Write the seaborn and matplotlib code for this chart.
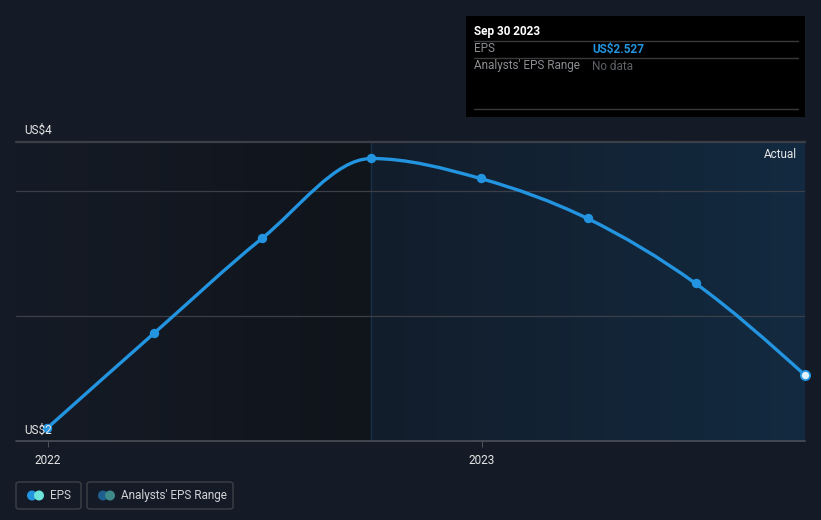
import numpy as np
import pandas as pd
import matplotlib
matplotlib.use("Agg")
import matplotlib.pyplot as plt
import matplotlib.dates as mdates
import seaborn as sns
from matplotlib.path import Path
from matplotlib.patches import PathPatch, FancyBboxPatch, Rectangle, Ellipse
from matplotlib.colors import LinearSegmentedColormap

# ---- data ----
dates = ["2021-12-31", "2022-03-31", "2022-06-30", "2022-09-30",
         "2022-12-31", "2023-03-31", "2023-06-30", "2023-09-30"]
eps = [2.10, 2.86, 3.62, 4.26, 4.10, 3.78, 3.26, 2.527]
y_label_values = [2, 4]
y_label_texts = ["US$2", "US$4"]
grid_values = [3, 4]
x_tick_dates = ["2022-01-01", "2023-01-01"]
x_tick_labels = ["2022", "2023"]
actual_start = "2022-09-30"
tooltip_date = "Sep 30 2023"
tooltip_eps = "US$2.527"

# ---- style ----
BG = "#151b26"
LINE = "#2394df"
sns.set_theme(style="dark")
plt.rcParams["font.family"] = ["Roboto", "DejaVu Sans"]

W, H = 821, 520
fig = plt.figure(figsize=(W / 100, H / 100), dpi=100, facecolor=BG)
ax = fig.add_axes([16 / W, (H - 441) / H, 789 / W, 299 / H])
ax.set_facecolor(BG)

df = pd.DataFrame({"date": pd.to_datetime(dates), "eps": eps})
df["x"] = mdates.date2num(df["date"])

px_per_day = 434 / 365.0
x0 = mdates.date2num(pd.Timestamp("2022-01-01")) - 32 / px_per_day
x1 = mdates.date2num(pd.Timestamp("2023-09-30"))
ylo = 2.0
yhi = 2.0 + 299 / 125.0
ax.set_xlim(x0, x1)
ax.set_ylim(ylo, yhi)

xa = mdates.date2num(pd.Timestamp(actual_start))
# gradient regions
grad_l = LinearSegmentedColormap.from_list("l", [BG, "#10141b"])
grad_r = LinearSegmentedColormap.from_list("r", ["#121d2b", "#132a40"])
g = np.linspace(0, 1, 256).reshape(1, -1)
ax.imshow(g, cmap=grad_l, extent=[x0, xa, ylo, yhi], aspect="auto", zorder=0)
ax.imshow(g, cmap=grad_r, extent=[xa, x1, ylo, yhi], aspect="auto", zorder=0)
ax.axvline(xa, color="#183049", lw=1, zorder=1)

# gridlines
for gv in grid_values:
    ax.axhline(gv, color="#3a3f48", lw=0.9, zorder=1)
ax.axhline(yhi, color="#3a3f48", lw=1.6, zorder=1, clip_on=False)

# smooth monotone curve (d3 curveMonotoneX style)
xs = df["x"].values
ys = df["eps"].values
n = len(xs)
h = np.diff(xs)
d = np.diff(ys) / h
m = np.zeros(n)
for i in range(1, n - 1):
    if d[i - 1] * d[i] <= 0:
        m[i] = 0
    else:
        m[i] = (np.sign(d[i - 1]) + np.sign(d[i])) * min(abs(d[i - 1]), abs(d[i]),
               0.5 * abs((d[i - 1] * h[i] + d[i] * h[i - 1]) / (h[i - 1] + h[i])))
m[0] = (3 * d[0] - m[1]) / 2
m[-1] = (3 * d[-1] - m[-2]) / 2
verts = [(xs[0], ys[0])]
codes = [Path.MOVETO]
for i in range(n - 1):
    dx = h[i] / 3
    verts += [(xs[i] + dx, ys[i] + m[i] * dx),
              (xs[i + 1] - dx, ys[i + 1] - m[i + 1] * dx),
              (xs[i + 1], ys[i + 1])]
    codes += [Path.CURVE4] * 3
ax.add_patch(PathPatch(Path(verts, codes), fill=False, edgecolor=LINE, lw=2.4,
                       zorder=3, capstyle="round", clip_on=False))

sns.scatterplot(data=df.iloc[:-1], x="x", y="eps", color=LINE, s=46,
                edgecolor=LINE, linewidth=0, zorder=4, ax=ax, legend=False,
                clip_on=False)
sns.scatterplot(data=df.iloc[-1:], x="x", y="eps", color="#dff1ff", s=44,
                edgecolor=LINE, linewidth=1.3, zorder=5, ax=ax, legend=False,
                clip_on=False)

# axes cosmetics
for s in ax.spines.values():
    s.set_visible(False)
ax.axhline(ylo, color="#4a4f58", lw=1.2, zorder=2, clip_on=False)
ax.set_xticks(mdates.date2num(pd.to_datetime(x_tick_dates)))
ax.set_xticklabels(x_tick_labels, color="#e6e6e6", fontsize=8.5)
ax.tick_params(axis="x", length=4, width=0.8, color="#4a4f58", pad=5, bottom=True)
ax.set_yticks([])
ax.set_xlabel("")
ax.set_ylabel("")
ax.grid(False)

def fx(px):
    return px / W

def fy(py):
    return 1 - py / H

# y labels
fig.text(fx(24), fy(130), y_label_texts[1], color="#e6e6e6", fontsize=8.5, va="center")
fig.text(fx(24), fy(430), y_label_texts[0], color="#e6e6e6", fontsize=8.5, va="center")

# Actual label
fig.text(fx(797), fy(154), "Actual", color="#e6e6e6", fontsize=8.5, ha="right", va="center")

# tooltip
fig.patches.append(Rectangle((fx(466), fy(117)), 339 / W, 101 / H, transform=fig.transFigure,
                             facecolor="#000000", edgecolor="none", zorder=5))
for yy in [41, 58, 109]:
    fig.lines.append(plt.Line2D([fx(474), fx(798)], [fy(yy), fy(yy)], transform=fig.transFigure,
                                color="#3a3a3a", lw=1, zorder=6))
fig.text(fx(474), fy(31), tooltip_date, color="#ffffff", fontsize=8.5, fontweight="bold",
         va="center", zorder=7)
fig.text(fx(474), fy(49), "EPS", color="#8a8d92", fontsize=8.5, va="center", zorder=7)
fig.text(fx(592), fy(49), tooltip_eps, color=LINE, fontsize=8.5, fontweight="bold",
         va="center", zorder=7)
fig.text(fx(474), fy(66), "Analysts' EPS Range", color="#8a8d92", fontsize=8.5,
         va="center", zorder=7)
fig.text(fx(592), fy(66), "No data", color="#5d6066", fontsize=8.5, va="center", zorder=7)

# legend
def legbox(xl, xr, c1, c2, label):
    fig.patches.append(FancyBboxPatch((fx(xl), fy(509)), (xr - xl) / W, 27 / H,
                                      boxstyle="round,pad=0,rounding_size=0.004",
                                      transform=fig.transFigure, facecolor="none",
                                      edgecolor="#3c4048", lw=1, zorder=5))
    r = 5
    fig.patches.append(Ellipse((fx(xl + 16), fy(495.5)), 2 * r / W, 2 * r / H,
                               transform=fig.transFigure, facecolor=c1,
                               edgecolor="none", zorder=6))
    fig.patches.append(Ellipse((fx(xl + 23), fy(495.5)), 2 * r / W, 2 * r / H,
                               transform=fig.transFigure, facecolor=c2,
                               edgecolor="none", zorder=6))
    fig.text(fx(xl + 34), fy(495.5), label, color="#d0d2d6", fontsize=8.5, va="center", zorder=7)

legbox(16, 81, "#2394df", "#6de4da", "EPS")
legbox(87, 233, "#1f5f8f", "#3e8a88", "Analysts' EPS Range")

fig.savefig("out.png", dpi=100, facecolor=BG)
